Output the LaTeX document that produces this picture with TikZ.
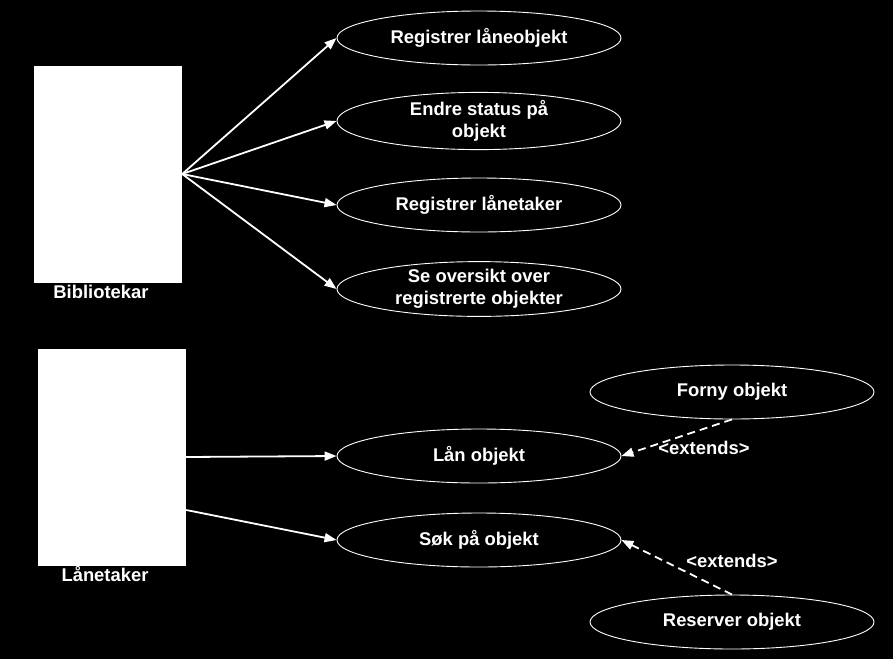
\documentclass[tikz,border=0pt]{standalone}
\usepackage{fontspec}
\setmainfont{Liberation Sans}
\usetikzlibrary{shapes.geometric,arrows.meta}
\begin{document}
\begin{tikzpicture}[x=1pt,y=-1pt,
  usecase/.style={ellipse,draw=white,line width=0.9pt,fill=black,minimum width=284pt,minimum height=54pt,inner sep=0pt,
    text=white,font=\fontsize{18.4}{21.5}\selectfont\bfseries,align=center},
  actor/.style={rectangle,fill=white,draw=none,inner sep=0pt,minimum width=148pt,minimum height=217pt},
  actorlabel/.style={text=white,font=\fontsize{18.4}{21.5}\selectfont\bfseries,inner sep=0pt},
  extlabel/.style={text=white,font=\fontsize{18.4}{21.5}\selectfont\bfseries,inner sep=0pt},
  assoc/.style={draw=white,line width=1.8pt,-{Triangle[length=12pt,width=9pt]}},
  extend/.style={draw=white,line width=1.8pt,dash pattern=on 8pt off 5pt,-{Triangle[length=12pt,width=9pt]}}]
\fill[black] (0,0) rectangle (893,659);
\useasboundingbox (0,0) rectangle (893,659);
% actors
\node[actor] (bib) at (108,174) {};
\node[actorlabel] (bibl) at (101,292) {Bibliotekar};
\node[actor] (lane) at (112,457) {};
\node[actorlabel] (lanel) at (105,574) {Lånetaker};
% use cases
\node[usecase] (u1) at (479,38) {Registrer låneobjekt};
\node[usecase] (u2) at (479,121) {Endre status på\\objekt};
\node[usecase] (u3) at (479,205) {Registrer lånetaker};
\node[usecase] (u4) at (479,289) {Se oversikt over\\registrerte objekter};
\node[usecase] (u5) at (479,456) {Lån objekt};
\node[usecase] (u6) at (479,540) {Søk på objekt};
\node[usecase] (u7) at (732,392) {Forny objekt};
\node[usecase] (u8) at (732,622) {Reserver objekt};
% associations
\draw[assoc] (bib.east) -- (u1.west);
\draw[assoc] (bib.east) -- (u2.west);
\draw[assoc] (bib.east) -- (u3.west);
\draw[assoc] (bib.east) -- (u4.west);
\coordinate (l1) at ([yshift=0pt]lane.east);
\coordinate (l2) at ([yshift=-53pt]lane.east);
\draw[assoc] (l1) -- (u5.west);
\draw[assoc] (l2) -- (u6.west);
% extends
\draw[extend] (u7.south) -- (u5.east);
\draw[extend] (u8.north) -- (u6.east);
\node[extlabel] (x1) at (704,448) {<extends>};
\node[extlabel] (x2) at (732,561) {<extends>};
\end{tikzpicture}
\end{document}
